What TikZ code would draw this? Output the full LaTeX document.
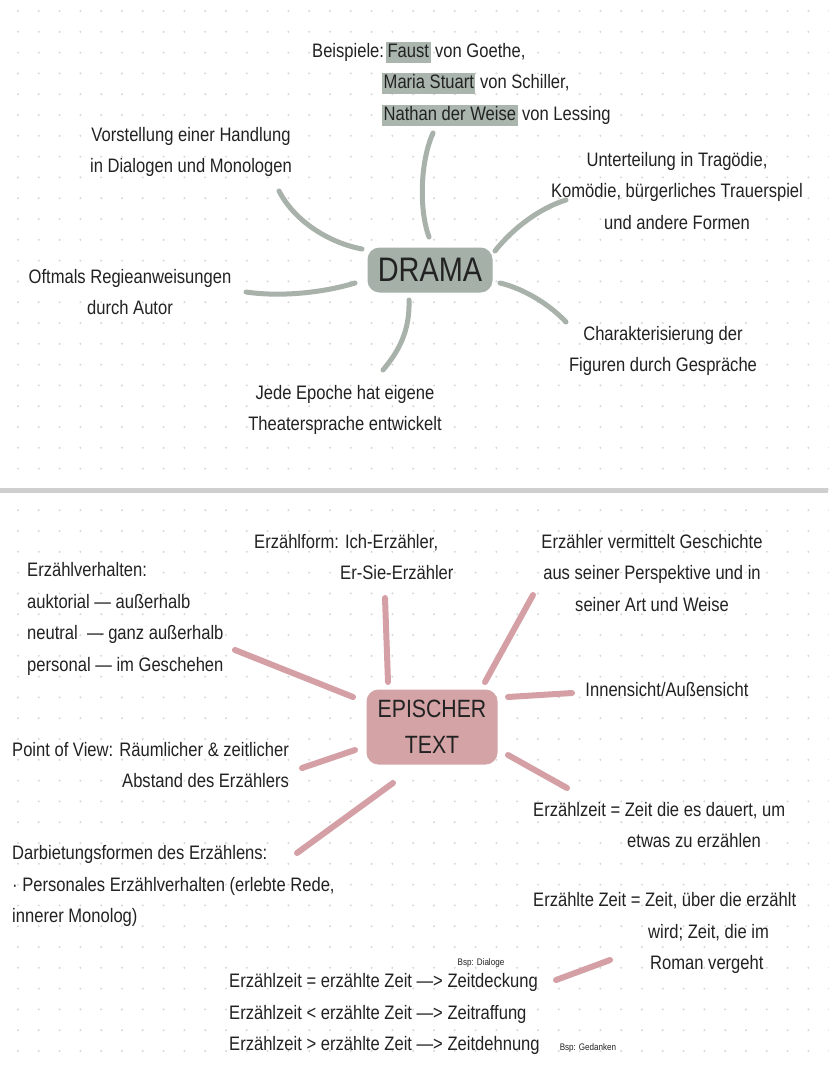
\documentclass[tikz,border=0pt]{standalone}
\usepackage{fontspec}
\setmainfont{Liberation Sans}[FakeStretch=0.85]
\definecolor{dotc}{HTML}{D6D6D6}
\definecolor{sepc}{HTML}{CFCFCF}
\definecolor{greenbox}{HTML}{A4B0A8}
\definecolor{greenline}{HTML}{A8B2AA}
\definecolor{hlc}{HTML}{A9B5AD}
\definecolor{pinkbox}{HTML}{D4A3A6}
\definecolor{pinkline}{HTML}{D4A0A5}
\definecolor{ink}{HTML}{222222}
\newcommand{\hlw}[1]{{\setlength{\fboxsep}{1.5pt}\colorbox{hlc}{\vphantom{Mg}#1}}}
\tikzset{
  txt/.style={text=ink, inner sep=0pt, font=\fontsize{19.5}{31.5}\selectfont},
  small/.style={text=ink, inner sep=0pt, font=\fontsize{9.5}{10}\selectfont},
  gline/.style={draw=greenline, line width=5pt, line cap=round},
  pline/.style={draw=pinkline, line width=6pt, line cap=round},
  dramabox/.style={fill=greenbox, rounded corners=12pt, minimum width=125pt, minimum height=45pt, text=ink, font=\fontsize{34}{36}\selectfont, inner sep=0pt},
  epbox/.style={fill=pinkbox, rounded corners=12pt, minimum width=131pt, minimum height=75pt, text=ink, font=\fontsize{25}{36}\selectfont, inner sep=0pt, align=center}
}
\begin{document}
\begin{tikzpicture}[x=1pt,y=-1pt]
\useasboundingbox (0,0) rectangle (828,1069);
\fill[white] (0,0) rectangle (828,1069);
% dot grid
\foreach \i in {0,...,39}{
  \foreach \j in {0,...,51}{
    \fill[dotc] (18+20.8*\i, 11+20.8*\j) circle (1.1pt);
  }
}
% separator
\draw[sepc, line width=5pt] (0,490) -- (828,490);

% ---------- DRAMA ----------
\node[dramabox] (drama) at (430,270) {DRAMA};
\node[txt, anchor=west, align=left] (beisp) at (312,84)
  {Beispiele:\hspace{2pt}\hlw{Faust} von Goethe,\\
   \hspace*{70pt}\hlw{Maria Stuart} von Schiller,\\
   \hspace*{70pt}\hlw{Nathan der Weise} von Lessing};
\node[txt, align=center] (vorst) at (191,152) {Vorstellung einer Handlung\\in Dialogen und Monologen};
\node[txt, align=center] (unter) at (677,191) {Unterteilung in Tragödie,\\Komödie, bürgerliches Trauerspiel\\und andere Formen};
\node[txt, align=center] (oft) at (130,292) {Oftmals Regieanweisungen\\durch Autor};
\node[txt, align=center] (charak) at (663,351) {Charakterisierung der\\Figuren durch Gespräche};
\node[txt, align=center] (jede) at (345,410) {Jede Epoche hat eigene\\Theatersprache entwickelt};

\coordinate (b-a) at (433,133); \coordinate (b-b) at (429,237);
\coordinate (v-a) at (279,191); \coordinate (v-b) at (362,249);
\coordinate (o-a) at (246,292); \coordinate (o-b) at (355,283);
\coordinate (j-a) at (409,300); \coordinate (j-b) at (383,370);
\coordinate (u-a) at (495,251); \coordinate (u-b) at (566,200);
\coordinate (c-a) at (500,283); \coordinate (c-b) at (566,322);
\draw[gline] (b-a) .. controls (420,162) and (419,210) .. (b-b);
\draw[gline] (v-a) .. controls (295,222) and (330,243) .. (v-b);
\draw[gline] (o-a) .. controls (280,297) and (322,293) .. (o-b);
\draw[gline] (j-a) .. controls (410,332) and (398,352) .. (j-b);
\draw[gline] (u-a) .. controls (513,228) and (540,208) .. (u-b);
\draw[gline] (c-a) .. controls (525,289) and (550,305) .. (c-b);

% ---------- EPISCHER TEXT ----------
\node[epbox] (ep) at (432,727) {EPISCHER\\TEXT};
\node[txt, anchor=west, align=left] (eform) at (254,557) {Erzählform: Ich-Erzähler,\\\hspace*{86pt}Er-Sie-Erzähler};
\node[txt, align=center] (verm) at (652,573) {Erzähler vermittelt Geschichte\\aus seiner Perspektive und in\\seiner Art und Weise};
\node[txt, anchor=west, align=left] (verh) at (27,619) {Erzählverhalten:\\auktorial — außerhalb\\neutral\ \ — ganz außerhalb\\personal — im Geschehen};
\node[txt] (innen) at (667,690) {Innensicht/Außensicht};
\node[txt, anchor=west, align=left] (pov) at (12,765) {Point of View: Räumlicher \& zeitlicher\\\hspace*{110pt}Abstand des Erzählers};
\node[txt, anchor=west, align=left] (ezeit) at (533,825) {Erzählzeit = Zeit die es dauert, um\\\hspace*{94pt}etwas zu erzählen};
\node[txt, anchor=west, align=left] (darb) at (12,886) {Darbietungsformen des Erzählens:\\· Personales Erzählverhalten (erlebte Rede,\\innerer Monolog)};
\node[txt, anchor=west, align=left] (ezt) at (533,933) {Erzählte Zeit = Zeit, über die erzählt\\\hspace*{115pt}wird; Zeit, die im\\\hspace*{117pt}Roman vergeht};
\node[txt, anchor=west, align=left] (zeiten) at (229,1014) {Erzählzeit = erzählte Zeit —> Zeitdeckung\\Erzählzeit < erzählte Zeit —> Zeitraffung\\Erzählzeit > erzählte Zeit —> Zeitdehnung};
\node[small] (bsp1) at (481,963) {Bsp: Dialoge};
\node[small] (bsp2) at (588,1048) {Bsp: Gedanken};

\coordinate (ef-a) at (385,598); \coordinate (ef-b) at (388,682);
\coordinate (vh-a) at (235,650); \coordinate (vh-b) at (353,697);
\coordinate (pv-a) at (302,768); \coordinate (pv-b) at (355,750);
\coordinate (vm-a) at (533,595); \coordinate (vm-b) at (485,682);
\coordinate (in-a) at (508,697); \coordinate (in-b) at (572,693);
\coordinate (ez-a) at (508,755); \coordinate (ez-b) at (567,788);
\coordinate (db-a) at (297,853); \coordinate (db-b) at (393,783);
\coordinate (zd-a) at (556,980); \coordinate (zd-b) at (610,960);
\draw[pline] (ef-a) -- (ef-b);
\draw[pline] (vh-a) -- (vh-b);
\draw[pline] (pv-a) -- (pv-b);
\draw[pline] (vm-a) -- (vm-b);
\draw[pline] (in-a) -- (in-b);
\draw[pline] (ez-a) -- (ez-b);
\draw[pline] (db-a) -- (db-b);
\draw[pline] (zd-a) -- (zd-b);
\end{tikzpicture}
\end{document}
